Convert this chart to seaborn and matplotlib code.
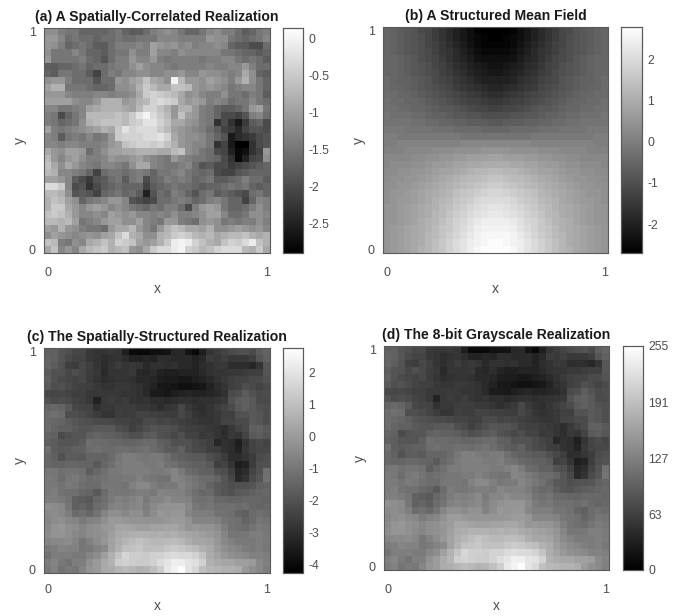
import numpy as np
import matplotlib
matplotlib.use('Agg')
import matplotlib.pyplot as plt
import seaborn as sns

# values, row 0 is the top row. a, b and c are in tenths
a_tenths = [
    [-12,-12,-14,-15,-15,-17,-17,-17,-17,-16,-15,-17,-18,-18,-16,-14,-13,-12,-13,-15,-17,-17,-15,-13,-12,-14,-14,-16,-18,-17,-15,-14],
    [-11,-11,-13,-16,-15,-16,-16,-17,-16,-16,-15,-16,-16,-15,-15,-15,-13,-13,-13,-14,-14,-14,-14,-11,-12,-12,-15,-16,-17,-16,-15,-13],
    [-11,-12,-14,-17,-16,-15,-16,-18,-18,-16,-14,-14,-14,-13,-14,-10,-11,-12,-11,-13,-12,-14,-13,-13,-12,-13,-17,-18,-18,-20,-20,-16],
    [-12,-15,-15,-15,-13,-15,-17,-17,-18,-16,-15,-15,-12,-14,-14,-10,-13,-13,-14,-12,-13,-13,-13,-13,-13,-15,-15,-16,-17,-17,-18,-17],
    [-11,-15,-15,-15,-15,-14,-16,-17,-19,-16,-14,-14,-11,-13,-13,-11,-14,-15,-14,-14,-14,-14,-15,-14,-14,-13,-13,-15,-16,-15,-16,-18],
    [-18,-18,-17,-17,-16,-15,-17,-16,-16,-15,-14,-14,-12,-10,-12,-13,-13,-14,-15,-14,-14,-14,-14,-13,-14,-14,-13,-13,-11,-14,-16,-16],
    [-17,-18,-15,-15,-16,-16,-18,-21,-16,-14,-15,-13,-13,-12,-12,-13,-13,-12,-12,-11,-13,-13,-11,-12,-12,-13,-14,-13,-9,-12,-17,-18],
    [-12,-11,-11,-14,-16,-16,-16,-19,-16,-16,-11,-12,-10,-9,-6,-9,-10,-12,0,-7,-11,-11,-12,-10,-11,-12,-14,-11,-8,-12,-15,-17],
    [-10,-8,-8,-15,-15,-15,-16,-17,-17,-16,-12,-12,-11,-8,-5,-7,-9,-9,-6,-6,-7,-11,-12,-11,-12,-13,-15,-14,-13,-13,-15,-17],
    [-11,-11,-11,-13,-14,-14,-14,-13,-13,-14,-13,-13,-12,-9,-5,-4,-5,-6,-7,-9,-12,-11,-13,-14,-14,-12,-15,-15,-16,-14,-15,-18],
    [-10,-10,-10,-10,-12,-13,-13,-11,-8,-8,-8,-11,-10,-8,-7,-4,-3,-4,-5,-9,-11,-10,-11,-14,-13,-14,-16,-15,-15,-13,-15,-16],
    [-13,-13,-15,-15,-14,-13,-10,-9,-8,-8,-8,-9,-10,-7,-4,-4,-6,-8,-11,-8,-8,-11,-14,-15,-17,-18,-18,-17,-15,-11,-10,-15],
    [-14,-15,-20,-17,-15,-13,-7,-7,-7,-7,-6,-7,-5,-2,0,-3,-5,-7,-11,-6,-10,-11,-14,-15,-17,-20,-20,-21,-19,-14,-13,-16],
    [-14,-15,-17,-16,-15,-12,-8,-7,-6,-6,-6,-7,-5,-4,-2,-2,-4,-6,-9,-9,-11,-12,-14,-15,-23,-20,-23,-26,-22,-18,-17,-20],
    [-10,-14,-15,-14,-13,-12,-11,-10,-8,-9,-5,-2,-4,-3,-3,-3,-5,-7,-10,-11,-12,-13,-14,-16,-18,-21,-22,-24,-21,-19,-19,-20],
    [-13,-14,-18,-15,-14,-15,-13,-15,-14,-11,-5,-4,-4,-4,-3,-3,-2,-4,-9,-11,-12,-12,-13,-15,-17,-19,-26,-24,-23,-22,-20,-19],
    [-13,-13,-14,-13,-13,-14,-14,-14,-13,-11,-10,-6,-5,-4,-4,-5,-4,-6,-8,-11,-12,-13,-13,-15,-23,-21,-26,-29,-29,-23,-20,-19],
    [-9,-11,-12,-10,-10,-11,-16,-14,-12,-10,-10,-9,-9,-8,-8,-8,-9,-9,-7,-6,-12,-13,-15,-16,-20,-21,-25,-28,-27,-23,-21,-11],
    [-7,-11,-13,-11,-10,-12,-14,-14,-13,-11,-12,-12,-11,-10,-12,-13,-14,-15,-11,-13,-14,-15,-15,-16,-17,-20,-23,-28,-25,-21,-20,-12],
    [-6,-9,-12,-9,-11,-13,-14,-15,-13,-13,-14,-15,-12,-9,-9,-13,-14,-15,-15,-14,-13,-16,-19,-18,-20,-20,-22,-21,-20,-19,-18,-17],
    [-7,-8,-13,-13,-14,-15,-17,-21,-16,-15,-15,-16,-15,-14,-15,-17,-15,-15,-14,-13,-15,-16,-17,-16,-20,-21,-21,-19,-18,-17,-17,-17],
    [-10,-10,-11,-13,-18,-20,-22,-19,-18,-16,-15,-18,-15,-14,-20,-17,-16,-14,-15,-14,-15,-17,-16,-15,-18,-18,-17,-16,-14,-16,-16,-18],
    [-3,-3,-5,-13,-20,-19,-23,-20,-18,-17,-16,-17,-17,-17,-21,-18,-17,-16,-15,-16,-16,-17,-18,-17,-17,-16,-15,-16,-15,-17,-18,-17],
    [-7,-7,-8,-12,-19,-18,-19,-21,-17,-16,-15,-17,-16,-18,-25,-19,-16,-17,-14,-15,-17,-19,-16,-15,-18,-17,-18,-19,-20,-16,-15,-17],
    [-8,-6,-7,-10,-12,-17,-15,-14,-13,-11,-11,-13,-19,-20,-21,-20,-16,-16,-15,-14,-15,-17,-16,-14,-13,-15,-17,-17,-21,-17,-13,-14],
    [-8,-5,-5,-9,-11,-13,-11,-10,-11,-13,-12,-13,-15,-16,-17,-15,-16,-14,-14,-16,-20,-14,-11,-10,-11,-15,-17,-17,-16,-14,-12,-14],
    [-6,-5,-6,-8,-11,-13,-13,-12,-13,-10,-11,-12,-11,-13,-13,-14,-13,-14,-12,-14,-14,-13,-12,-10,-10,-13,-16,-16,-15,-12,-12,-13],
    [-7,-7,-8,-7,-10,-15,-14,-13,-11,-10,-10,-12,-12,-10,-13,-14,-15,-11,-11,-14,-15,-16,-12,-11,-12,-15,-14,-15,-14,-14,-12,-14],
    [-10,-11,-8,-11,-12,-14,-15,-15,-16,-11,-9,-9,-7,-11,-13,-15,-11,-8,-6,-7,-9,-9,-10,-8,-12,-12,-11,-10,-11,-12,-11,-13],
    [-12,-10,-11,-12,-13,-12,-11,-12,-10,-9,-6,-3,-8,-9,-12,-12,-8,-7,-5,-4,-5,-7,-8,-7,-9,-8,-7,-7,-6,-8,-9,-8],
    [-6,-7,-14,-15,-12,-13,-9,-8,-6,-8,-4,-5,-6,-10,-11,-10,-8,-5,-1,0,-1,-4,-6,-8,-9,-6,-4,-5,-3,-1,-6,-8],
    [-9,-6,-13,-11,-13,-9,-7,-6,-5,-8,-7,-6,-11,-12,-9,-5,-3,-3,-1,0,-4,-5,-7,-6,-4,-3,-3,-3,-7,-8,-5,-9],
]

b_tenths = [
    [-5,-6,-7,-8,-9,-11,-12,-14,-16,-18,-20,-22,-24,-26,-27,-27,-27,-27,-26,-24,-22,-20,-18,-16,-14,-12,-11,-9,-8,-7,-6,-5],
    [-5,-6,-7,-8,-9,-10,-12,-14,-16,-18,-20,-22,-24,-25,-26,-27,-27,-26,-25,-24,-22,-20,-18,-16,-14,-12,-10,-9,-8,-7,-6,-5],
    [-5,-6,-7,-8,-9,-10,-12,-13,-15,-17,-19,-21,-23,-25,-26,-26,-26,-26,-25,-23,-21,-19,-17,-15,-13,-12,-10,-9,-8,-7,-6,-5],
    [-5,-6,-7,-8,-9,-10,-11,-13,-15,-16,-18,-20,-22,-24,-25,-25,-25,-25,-24,-22,-20,-18,-16,-15,-13,-11,-10,-9,-8,-7,-6,-5],
    [-5,-5,-6,-7,-8,-10,-11,-12,-14,-16,-18,-19,-21,-23,-24,-24,-24,-24,-23,-21,-19,-18,-16,-14,-12,-11,-10,-8,-7,-6,-5,-5],
    [-5,-5,-6,-7,-8,-9,-10,-12,-13,-15,-17,-18,-20,-21,-22,-23,-23,-22,-21,-20,-18,-17,-15,-13,-12,-10,-9,-8,-7,-6,-5,-5],
    [-5,-5,-6,-7,-8,-9,-10,-11,-13,-14,-16,-17,-19,-20,-21,-22,-22,-21,-20,-19,-17,-16,-14,-13,-11,-10,-9,-8,-7,-6,-5,-5],
    [-4,-5,-6,-6,-7,-8,-9,-11,-12,-13,-15,-16,-17,-19,-20,-20,-20,-20,-19,-17,-16,-15,-13,-12,-11,-9,-8,-7,-6,-6,-5,-4],
    [-4,-5,-5,-6,-7,-8,-9,-10,-11,-12,-14,-15,-16,-17,-18,-19,-19,-18,-17,-16,-15,-14,-12,-11,-10,-9,-8,-7,-6,-5,-5,-4],
    [-4,-4,-5,-5,-6,-7,-8,-9,-10,-11,-12,-13,-14,-15,-16,-17,-17,-16,-15,-14,-13,-12,-11,-10,-9,-8,-7,-6,-5,-5,-4,-4],
    [-3,-4,-4,-5,-5,-6,-7,-8,-9,-10,-11,-12,-13,-13,-14,-15,-15,-14,-13,-13,-12,-11,-10,-9,-8,-7,-6,-5,-5,-4,-4,-3],
    [-3,-3,-4,-4,-5,-5,-6,-7,-8,-8,-9,-10,-11,-12,-12,-13,-13,-12,-12,-11,-10,-9,-8,-8,-7,-6,-5,-5,-4,-4,-3,-3],
    [-2,-3,-3,-3,-4,-4,-5,-6,-6,-7,-8,-8,-9,-9,-10,-10,-10,-10,-9,-9,-8,-8,-7,-6,-6,-5,-4,-4,-3,-3,-3,-2],
    [-2,-2,-2,-2,-3,-3,-4,-4,-5,-5,-6,-6,-7,-7,-7,-8,-8,-7,-7,-7,-6,-6,-5,-5,-4,-4,-3,-3,-2,-2,-2,-2],
    [-1,-1,-1,-2,-2,-2,-2,-3,-3,-3,-4,-4,-4,-4,-5,-5,-5,-5,-4,-4,-4,-4,-3,-3,-3,-2,-2,-2,-2,-1,-1,-1],
    [0,0,-1,-1,-1,-1,-1,-1,-1,-1,-1,-2,-2,-2,-2,-2,-2,-2,-2,-2,-2,-1,-1,-1,-1,-1,-1,-1,-1,-1,0,0],
    [0,0,1,1,1,1,1,1,1,1,1,2,2,2,2,2,2,2,2,2,2,1,1,1,1,1,1,1,1,1,0,0],
    [1,1,1,2,2,2,2,3,3,3,4,4,4,4,5,5,5,5,4,4,4,4,3,3,3,2,2,2,2,1,1,1],
    [2,2,2,2,3,3,4,4,5,5,6,6,7,7,7,8,8,7,7,7,6,6,5,5,4,4,3,3,2,2,2,2],
    [2,3,3,3,4,4,5,6,6,7,8,8,9,9,10,10,10,10,9,9,8,8,7,6,6,5,4,4,3,3,3,2],
    [3,3,4,4,5,5,6,7,8,8,9,10,11,12,12,13,13,12,12,11,10,9,8,8,7,6,5,5,4,4,3,3],
    [3,4,4,5,5,6,7,8,9,10,11,12,13,13,14,15,15,14,13,13,12,11,10,9,8,7,6,5,5,4,4,3],
    [4,4,5,5,6,7,8,9,10,11,12,13,14,15,16,17,17,16,15,14,13,12,11,10,9,8,7,6,5,5,4,4],
    [4,5,5,6,7,8,9,10,11,12,14,15,16,17,18,19,19,18,17,16,15,14,12,11,10,9,8,7,6,5,5,4],
    [4,5,6,6,7,8,9,11,12,13,15,16,17,19,20,20,20,20,19,17,16,15,13,12,11,9,8,7,6,6,5,4],
    [5,5,6,7,8,9,10,11,13,14,16,17,19,20,21,22,22,21,20,19,17,16,14,13,11,10,9,8,7,6,5,5],
    [5,5,6,7,8,9,10,12,13,15,17,18,20,21,22,23,23,22,21,20,18,17,15,13,12,10,9,8,7,6,5,5],
    [5,5,6,7,8,10,11,12,14,16,18,19,21,23,24,24,24,24,23,21,19,18,16,14,12,11,10,8,7,6,5,5],
    [5,6,7,8,9,10,11,13,15,16,18,20,22,24,25,25,25,25,24,22,20,18,16,15,13,11,10,9,8,7,6,5],
    [5,6,7,8,9,10,12,13,15,17,19,21,23,25,26,26,26,26,25,23,21,19,17,15,13,12,10,9,8,7,6,5],
    [5,6,7,8,9,10,12,14,16,18,20,22,24,25,26,27,27,26,25,24,22,20,18,16,14,12,10,9,8,7,6,5],
    [5,6,7,8,9,11,12,14,16,18,20,22,24,26,27,27,27,27,26,24,22,20,18,16,14,12,11,9,8,7,6,5],
]

c_tenths = [
    [-16,-16,-19,-21,-23,-23,-27,-28,-28,-27,-28,-34,-40,-40,-40,-38,-38,-37,-32,-31,-37,-40,-34,-28,-26,-24,-22,-21,-20,-22,-17,-15],
    [-15,-16,-19,-22,-24,-24,-27,-28,-30,-29,-28,-30,-33,-33,-32,-33,-30,-30,-31,-31,-31,-33,-31,-26,-27,-25,-27,-27,-27,-25,-19,-16],
    [-15,-17,-20,-25,-26,-23,-25,-28,-30,-28,-26,-28,-27,-28,-31,-29,-29,-30,-29,-31,-31,-33,-30,-29,-27,-27,-30,-30,-30,-32,-28,-19],
    [-17,-20,-20,-23,-21,-23,-26,-27,-31,-28,-28,-28,-27,-31,-32,-30,-33,-34,-34,-33,-33,-33,-31,-29,-28,-28,-27,-27,-26,-25,-25,-19],
    [-16,-20,-22,-23,-24,-23,-26,-28,-30,-29,-28,-28,-29,-31,-31,-32,-34,-35,-35,-36,-36,-34,-33,-31,-29,-27,-25,-24,-24,-22,-22,-20],
    [-18,-21,-20,-22,-24,-25,-25,-27,-28,-28,-27,-27,-28,-29,-31,-33,-36,-36,-37,-38,-38,-37,-36,-33,-30,-28,-25,-24,-21,-22,-24,-22],
    [-23,-23,-23,-24,-25,-25,-27,-27,-27,-27,-27,-28,-28,-29,-31,-35,-35,-36,-34,-33,-32,-33,-33,-32,-31,-29,-22,-21,-17,-20,-22,-21],
    [-20,-22,-21,-22,-24,-25,-27,-33,-27,-26,-27,-26,-28,-29,-28,-30,-30,-31,-30,-29,-29,-30,-29,-29,-28,-27,-20,-17,-16,-18,-22,-22],
    [-15,-14,-15,-18,-23,-24,-24,-29,-27,-27,-26,-26,-26,-27,-27,-28,-30,-28,-27,-23,-27,-29,-30,-28,-26,-24,-22,-18,-16,-18,-20,-21],
    [-13,-12,-13,-21,-21,-22,-24,-26,-28,-28,-25,-26,-26,-24,-24,-25,-25,-26,-26,-23,-25,-28,-29,-28,-27,-25,-25,-20,-20,-18,-19,-21],
    [-13,-14,-15,-17,-19,-20,-21,-22,-22,-23,-24,-24,-25,-25,-22,-22,-24,-23,-24,-25,-26,-27,-28,-28,-27,-24,-24,-22,-22,-18,-19,-21],
    [-13,-15,-16,-16,-18,-19,-19,-18,-18,-18,-21,-22,-25,-23,-21,-19,-20,-20,-21,-24,-25,-25,-26,-27,-28,-30,-27,-24,-22,-16,-16,-18],
    [-15,-16,-22,-20,-19,-19,-16,-15,-16,-16,-17,-19,-21,-20,-18,-17,-20,-21,-23,-21,-24,-24,-27,-26,-28,-30,-27,-28,-24,-18,-17,-19],
    [-16,-17,-19,-19,-19,-17,-12,-13,-13,-14,-14,-15,-15,-14,-13,-13,-16,-17,-20,-20,-20,-22,-24,-25,-32,-29,-30,-34,-28,-24,-22,-24],
    [-12,-17,-18,-17,-16,-16,-13,-12,-13,-13,-12,-12,-13,-12,-11,-13,-15,-17,-18,-16,-20,-22,-23,-25,-26,-29,-30,-33,-27,-24,-23,-23],
    [-14,-16,-20,-17,-17,-18,-15,-15,-15,-13,-10,-8,-8,-9,-10,-9,-9,-12,-15,-16,-17,-18,-18,-21,-23,-26,-30,-30,-28,-26,-22,-21],
    [-14,-15,-15,-14,-14,-15,-15,-18,-14,-12,-9,-8,-8,-8,-9,-9,-8,-11,-12,-14,-15,-16,-16,-18,-25,-24,-28,-34,-33,-26,-21,-20],
    [-10,-10,-12,-11,-11,-12,-17,-14,-12,-9,-9,-8,-8,-8,-8,-9,-9,-8,-6,-9,-13,-14,-16,-16,-20,-21,-25,-32,-30,-24,-20,-12],
    [-9,-10,-13,-10,-9,-11,-13,-12,-11,-10,-10,-9,-9,-7,-9,-10,-11,-11,-6,-7,-9,-11,-13,-13,-15,-19,-23,-31,-28,-22,-19,-11],
    [-9,-9,-11,-9,-10,-12,-13,-13,-10,-10,-10,-11,-7,-5,-5,-8,-10,-9,-9,-6,-8,-10,-12,-15,-18,-19,-21,-20,-20,-19,-16,-15],
    [-9,-8,-11,-12,-12,-14,-15,-18,-13,-9,-10,-10,-9,-8,-8,-9,-6,-7,-7,-7,-9,-12,-14,-13,-17,-19,-20,-18,-17,-16,-15,-14],
    [-8,-8,-9,-11,-16,-17,-18,-14,-12,-9,-7,-8,-7,-5,-9,-6,-6,-4,-6,-6,-7,-11,-12,-11,-14,-14,-15,-15,-14,-14,-14,-15],
    [-3,-4,-5,-10,-16,-15,-17,-13,-11,-7,-6,-7,-6,-5,-8,-5,-3,-2,-2,-2,-5,-9,-11,-10,-12,-12,-12,-13,-12,-14,-15,-14],
    [-5,-4,-5,-8,-13,-12,-14,-11,-6,-3,-3,-5,-3,-3,-7,-4,-1,-2,-1,-1,-6,-8,-8,-8,-11,-11,-12,-15,-16,-13,-12,-13],
    [-6,-4,-3,-5,-6,-9,-7,-6,-3,0,0,-1,-2,-2,-2,-2,-2,-1,0,0,-2,-6,-6,-6,-7,-10,-11,-12,-15,-13,-10,-11],
    [-5,-2,-1,-3,-4,-6,-4,-3,-1,0,3,3,2,1,1,2,2,3,3,1,-2,-1,-2,-2,-4,-8,-11,-12,-13,-11,-9,-10],
    [-4,-2,-2,-3,-5,-6,-4,-3,-2,1,4,5,6,6,6,5,6,5,6,4,3,2,1,0,-2,-6,-10,-10,-10,-8,-8,-9],
    [-6,-5,-5,-4,-6,-10,-7,-4,-1,2,5,7,9,11,9,8,8,9,9,8,5,3,3,2,-1,-5,-7,-9,-9,-9,-8,-9],
    [-9,-8,-6,-7,-7,-10,-9,-7,-5,2,6,10,11,12,10,10,10,12,13,12,10,9,6,4,0,-3,-5,-6,-8,-9,-8,-10],
    [-11,-8,-8,-8,-9,-9,-6,-4,1,6,11,16,14,14,13,15,15,17,18,17,17,15,11,5,2,-1,-3,-4,-5,-7,-7,-8],
    [-8,-6,-9,-11,-8,-8,-3,0,4,7,14,15,14,13,13,15,18,20,23,23,20,19,15,6,4,3,3,1,1,0,-5,-7],
    [-9,-7,-11,-9,-10,-6,-2,0,4,5,7,9,8,6,7,10,14,21,24,27,20,17,10,8,7,6,6,5,0,-3,-5,-8],
]

d_gray = [
    [97,97,86,79,72,72,57,53,53,57,53,31,9,9,9,17,17,20,39,42,20,9,31,53,61,68,75,79,83,75,94,101],
    [101,97,86,75,68,68,57,53,46,50,53,46,35,35,39,35,46,46,42,42,42,35,42,61,57,64,57,57,57,64,86,97],
    [101,94,83,64,61,72,64,53,46,53,61,53,57,53,42,50,50,46,50,42,42,35,46,50,57,57,46,46,46,39,53,86],
    [94,83,83,72,79,72,61,57,42,53,53,53,57,42,39,46,35,31,31,35,35,35,42,50,53,53,57,57,61,64,64,86],
    [97,83,75,72,68,72,61,53,46,50,53,53,50,42,42,39,31,28,28,24,24,31,35,42,50,57,64,68,68,75,75,83],
    [90,79,83,75,68,64,64,57,53,53,57,57,53,50,42,35,24,24,20,17,17,20,24,35,46,53,64,68,79,75,68,75],
    [72,72,72,68,64,64,57,57,57,57,57,53,53,50,42,28,28,24,31,35,39,35,35,39,42,50,75,79,94,83,75,79],
    [83,75,79,75,68,64,57,35,57,61,57,61,53,50,53,46,46,42,46,50,50,46,50,50,53,57,83,94,97,90,75,75],
    [101,105,101,90,72,68,68,50,57,57,61,61,61,57,57,53,46,53,57,72,57,50,46,53,61,68,75,90,97,90,83,79],
    [108,112,108,79,79,75,68,61,53,53,64,61,61,68,68,64,64,61,61,72,64,53,50,53,57,64,64,83,83,90,86,79],
    [108,105,101,94,86,83,79,75,75,72,68,68,64,64,75,75,68,72,68,64,61,57,53,53,57,68,68,75,75,90,86,79],
    [108,101,97,97,90,86,86,90,90,90,79,75,64,72,79,86,83,83,79,68,64,64,61,57,53,46,57,68,75,97,97,90],
    [101,97,75,83,86,86,97,101,97,97,94,86,79,83,90,94,83,79,72,79,68,68,57,61,53,46,57,53,68,90,94,86],
    [97,94,86,86,86,94,112,108,108,105,105,101,101,105,108,108,97,94,83,83,83,75,68,64,39,50,46,31,53,68,75,68],
    [112,94,90,94,97,97,108,112,108,108,112,112,108,112,116,108,101,94,90,97,83,75,72,64,61,50,46,35,57,68,72,72],
    [105,97,83,94,94,90,101,101,101,108,119,127,127,123,119,123,123,112,101,97,94,90,90,79,72,61,46,46,53,61,75,79],
    [105,101,101,105,105,101,101,90,105,112,123,127,127,127,123,123,127,116,112,105,101,97,97,90,64,68,53,31,35,61,79,83],
    [119,119,112,116,116,112,94,105,112,123,123,127,127,127,127,123,123,127,134,123,108,105,97,97,83,79,64,39,46,68,83,112],
    [123,119,108,119,123,116,108,112,116,119,119,123,123,130,123,119,116,116,134,130,123,116,108,108,101,86,72,42,53,75,86,116],
    [123,123,116,123,119,112,108,108,119,119,119,116,130,138,138,127,119,123,123,134,127,119,112,101,90,86,79,83,83,86,97,101],
    [123,127,116,112,112,105,101,90,108,123,119,119,123,127,127,123,134,130,130,130,123,112,105,108,94,86,83,90,94,97,101,105],
    [127,127,123,116,97,94,90,105,112,123,130,127,130,138,123,134,134,141,134,134,130,116,112,116,105,105,101,101,105,105,105,101],
    [145,141,138,119,97,101,94,108,116,130,134,130,134,138,127,138,145,149,149,149,138,123,116,119,112,112,112,108,112,105,101,105],
    [138,141,138,127,108,112,105,116,134,145,145,138,145,145,130,141,152,149,152,152,134,127,127,127,116,116,112,101,97,108,112,108],
    [134,141,145,138,134,123,130,134,145,156,156,152,149,149,149,149,149,152,156,156,149,134,134,134,130,119,116,112,101,108,119,116],
    [138,149,152,145,141,134,141,145,152,156,167,167,163,160,160,163,163,167,167,160,149,152,149,149,141,127,116,112,108,116,123,119],
    [141,149,149,145,138,134,141,145,149,160,171,174,178,178,178,174,178,174,178,171,167,163,160,156,149,134,119,119,119,127,127,123],
    [134,138,138,141,134,119,130,141,152,163,174,182,189,196,189,185,185,189,189,185,174,167,167,163,152,138,130,123,123,123,127,123],
    [123,127,134,130,130,119,123,130,138,163,178,193,196,200,193,193,193,200,204,200,193,189,178,171,156,145,138,134,127,123,127,119],
    [116,127,127,127,123,123,134,141,160,178,196,215,207,207,204,211,211,218,222,218,218,211,196,174,163,152,145,141,138,130,130,127],
    [127,134,123,116,127,127,145,156,171,182,207,211,207,204,204,211,222,229,240,240,229,226,211,178,171,167,167,160,160,156,138,130],
    [123,130,116,123,119,134,149,156,171,174,182,189,185,178,182,193,207,233,244,255,229,218,193,185,182,178,178,174,156,145,138,127],
]

a_ticks = [0, -0.5, -1, -1.5, -2, -2.5]
b_ticks = [2, 1, 0, -1, -2]
c_ticks = [2, 1, 0, -1, -2, -3, -4]
d_ticks = [255, 191, 127, 63, 0]

W, H = 681, 616
EDGE = '#5a5a5a'
TEXT = '#4d4d4d'

sns.set_theme(style='white')
plt.rcParams['font.family'] = ['Liberation Sans', 'DejaVu Sans']


def box(left, top, right, bottom):
    # pixel box to figure fractions
    return [left / W, 1 - bottom / H, (right - left) / W, (bottom - top) / H]


def draw_panel(fig, values, title, ax_box, cbar_box, vmin, vmax, ticks, tick_labels, xpad=10):
    ax = fig.add_axes(box(*ax_box))
    cax = fig.add_axes(box(*cbar_box))
    sns.heatmap(np.array(values), cmap='gray', vmin=vmin, vmax=vmax, ax=ax, cbar_ax=cax,
                square=False, xticklabels=False, yticklabels=False)
    n = len(values)
    ax.set_xticks([0.5, n - 0.5], ['0', '1'])
    ax.set_yticks([n - 0.5, 0.5], ['0', '1'], rotation=0)
    ax.tick_params(direction='in', length=2, width=0.7, color=EDGE, labelcolor=TEXT,
                   labelsize=9, top=True, right=True, bottom=True, left=True)
    ax.tick_params(axis='x', pad=xpad)
    ax.tick_params(axis='y', pad=6)
    ax.set_xlabel('x', fontsize=10, color=TEXT, labelpad=2)
    ax.set_ylabel('y', fontsize=10, color=TEXT, labelpad=1)
    ax.set_title(title, fontsize=10.1, fontweight='bold', color='#1a1a1a', pad=5)
    for spine in ax.spines.values():
        spine.set_visible(True)
        spine.set_color(EDGE)
        spine.set_linewidth(0.8)
    cax.set_yticks(ticks, tick_labels)
    cax.tick_params(direction='in', length=2, width=0.7, color=EDGE, labelcolor=TEXT,
                    labelsize=8.7, right=True, left=False, pad=4)
    for spine in cax.spines.values():
        spine.set_visible(True)
        spine.set_color(EDGE)
        spine.set_linewidth(0.8)


fig = plt.figure(figsize=(W / 100, H / 100), dpi=100, facecolor='white')

draw_panel(fig, np.array(a_tenths) / 10, '(a) A Spatially-Correlated Realization',
           (44, 28, 270, 253), (283, 28, 303, 253), -2.9, 0.135, a_ticks,
           [str(t) for t in a_ticks])
draw_panel(fig, np.array(b_tenths) / 10, '(b) A Structured Mean Field',
           (383, 27, 608, 253), (621, 27, 642, 253), -2.7, 2.78, b_ticks,
           [str(t) for t in b_ticks])
draw_panel(fig, np.array(c_tenths) / 10, '(c) The Spatially-Structured Realization',
           (44, 348, 270, 573), (283, 348, 303, 573), -4.25, 2.78, c_ticks,
           [str(t) for t in c_ticks], xpad=8)
draw_panel(fig, d_gray, '(d) The 8-bit Grayscale Realization',
           (384, 346, 609, 570), (623, 346, 643, 570), 0, 255, d_ticks,
           [str(t) for t in d_ticks], xpad=10)

fig.savefig('out.png', dpi=100)
